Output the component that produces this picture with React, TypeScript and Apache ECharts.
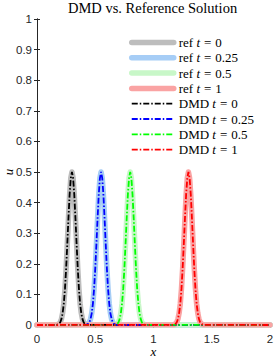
import React, { useEffect, useRef } from "react";
import * as echarts from "echarts";

const times = ["0", "0.25", "0.5", "1"];
const centers = [0.3, 0.55, 0.8, 1.3];
const pulseOffsets = [-0.13, -0.12, -0.11, -0.1, -0.09, -0.08, -0.07, -0.06, -0.05, -0.04, -0.03, -0.02, -0.01, 0, 0.01, 0.02, 0.03, 0.04, 0.05, 0.06, 0.07, 0.08, 0.09, 0.1, 0.11, 0.12, 0.13];
const pulseValues = [0.0005, 0.002, 0.004, 0.009, 0.02, 0.039, 0.07, 0.118, 0.184, 0.264, 0.349, 0.426, 0.48, 0.5, 0.48, 0.426, 0.349, 0.264, 0.184, 0.118, 0.07, 0.039, 0.02, 0.009, 0.004, 0.002, 0.0005];
const domain = [0, 2];
const refColors = ["#bdbdbd", "#a6cdf6", "#c8f7c8", "#faa3a3"];
const dmdColors = ["#000000", "#0000ff", "#00ff00", "#ff0000"];

const SERIF = "'Liberation Serif', 'Times New Roman', serif";
const SANS = "'Liberation Sans', Arial, Helvetica, sans-serif";

function buildCurve(center: number): number[][] {
  const pts: number[][] = [[domain[0], 0]];
  pulseOffsets.forEach((o, i) => pts.push([+(center + o).toFixed(4), pulseValues[i]]));
  pts.push([domain[1], 0]);
  return pts;
}

export default function App() {
  const ref = useRef<HTMLDivElement>(null);
  useEffect(() => {
    if (!ref.current) return;
    const chart = echarts.init(ref.current, null, { renderer: "svg" });
    const series: any[] = [];
    const legendNames: string[] = [];
    const labels: Record<string, string> = {};
    times.forEach((t, k) => {
      const name = "ref" + k;
      legendNames.push(name);
      labels[name] = `{n|ref }{i|t}{e|=}{n|${t}}`;
      series.push({
        name,
        type: "line",
        data: buildCurve(centers[k]),
        showSymbol: false,
        symbol: "none",
        lineStyle: { color: refColors[k], width: 5.5, cap: "round", join: "round" },
        itemStyle: { color: refColors[k] },
        z: 2,
      });
    });
    times.forEach((t, k) => {
      const name = "dmd" + k;
      legendNames.push(name);
      labels[name] = `{n|DMD }{i|t}{e|=}{n|${t}}`;
      series.push({
        name,
        type: "line",
        data: buildCurve(centers[k]),
        showSymbol: false,
        symbol: "none",
        lineStyle: { color: dmdColors[k], width: 1.8, type: [6, 2, 1.5, 2] },
        itemStyle: { color: dmdColors[k] },
        z: 3,
      });
    });

    const axisLine = { show: true, lineStyle: { color: "#262626", width: 1 } };
    const axisTick = { show: true, inside: true, length: 3, lineStyle: { color: "#262626", width: 1 } };

    chart.setOption({
      animation: false,
      backgroundColor: "#ffffff",
      title: {
        text: "DMD vs. Reference Solution",
        left: 68,
        top: 0,
        padding: 0,
        textStyle: { fontFamily: SERIF, fontSize: 14.5, fontWeight: "normal", color: "#000" },
      },
      legend: {
        data: legendNames,
        orient: "vertical",
        left: 129,
        top: 36,
        itemWidth: 42,
        itemHeight: 12,
        itemGap: 2.3,
        padding: 0,
        itemStyle: { opacity: 0, borderWidth: 0 },
        lineStyle: { width: "inherit" },
        formatter: (name: string) => labels[name],
        textStyle: {
          fontFamily: SERIF,
          fontSize: 13,
          color: "#000",
          rich: {
            n: { fontFamily: SERIF, fontSize: 13, color: "#000" },
            i: { fontFamily: SERIF, fontSize: 13, fontStyle: "italic", color: "#000" },
            e: { fontFamily: SERIF, fontSize: 13, color: "#000", padding: [0, 4, 0, 4] },
          },
        },
      },
      grid: { left: 37, right: 4, top: 19, bottom: 34, containLabel: false, outerBoundsMode: "none" },
      xAxis: [
        {
          type: "value",
          min: 0,
          max: 2,
          interval: 0.5,
          position: "bottom",
          name: "x",
          nameLocation: "middle",
          nameGap: 20,
          nameMoveOverlap: false,
          nameTextStyle: { fontFamily: SERIF, fontSize: 13, lineHeight: 13, fontStyle: "italic", color: "#000" },
          axisLine,
          axisTick,
          splitLine: { show: false },
          axisLabel: { fontFamily: SANS, fontSize: 11.5, lineHeight: 12, color: "#262626", margin: 8 },
        },
        {
          type: "value",
          min: 0,
          max: 2,
          interval: 0.5,
          position: "top",
          axisLine,
          axisTick,
          splitLine: { show: false },
          axisLabel: { show: false },
        },
      ],
      yAxis: [
        {
          type: "value",
          min: 0,
          max: 1,
          interval: 0.1,
          position: "left",
          name: "u",
          nameLocation: "middle",
          nameGap: 22,
          nameMoveOverlap: false,
          nameRotate: 90,
          nameTextStyle: { fontFamily: SERIF, fontSize: 13, lineHeight: 13, fontStyle: "italic", color: "#000" },
          axisLine,
          axisTick,
          splitLine: { show: false },
          axisLabel: { fontFamily: SANS, fontSize: 11.5, color: "#262626", margin: 5 },
        },
        {
          type: "value",
          min: 0,
          max: 1,
          interval: 0.1,
          position: "right",
          axisLine,
          axisTick,
          splitLine: { show: false },
          axisLabel: { show: false },
        },
      ],
      series,
    });
    return () => chart.dispose();
  }, []);
  return (
    <div
      ref={ref}
      style={{ position: "fixed", left: 0, top: 0, width: 274, height: 359, background: "#fff" }}
    />
  );
}
